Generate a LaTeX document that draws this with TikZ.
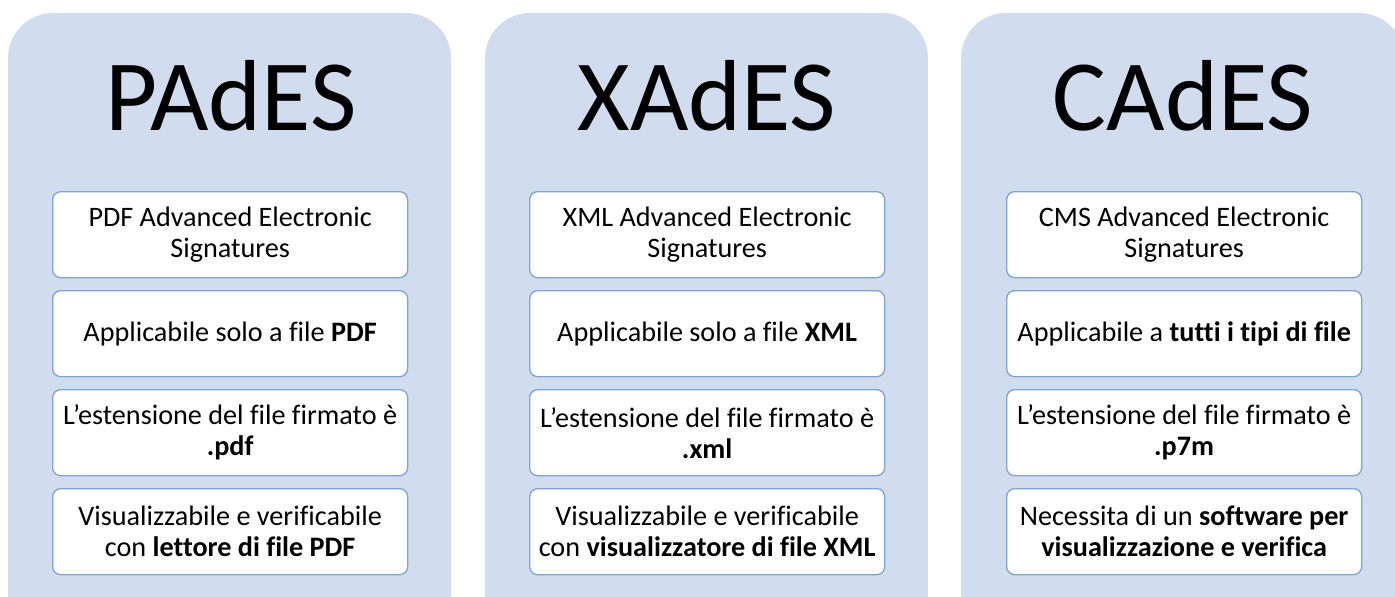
\documentclass[tikz,border=0pt]{standalone}
\usepackage{fontspec}
\setmainfont[Ligatures=NoCommon]{Carlito}
\definecolor{panelfill}{HTML}{D1DCEE}
\definecolor{boxline}{HTML}{7FA3D3}
\begin{document}
\begin{tikzpicture}[x=1pt,y=-1pt,
  panel/.style={fill=panelfill, rounded corners=45pt, anchor=north west, minimum width=443pt, minimum height=640pt, inner sep=0pt, outer sep=0pt},
  itembox/.style={draw=boxline, line width=1.3pt, fill=white, rounded corners=8pt, minimum width=355pt, minimum height=86pt, align=center, font=\fontsize{28.2}{31}\selectfont, inner sep=2pt, anchor=north west},
  titletext/.style={font=\fontsize{101}{110}\selectfont, anchor=base, inner sep=0pt}]
\useasboundingbox (0,0) rectangle (1395,597);
\clip (0,0) rectangle (1395,597);
% panels
\node[panel] (p1) at (8,13) {};
\node[panel] (p2) at (485,13) {};
\node[panel] (p3) at (961,13) {};
% titles
\node[titletext] (t1) at (231,130) {PAdES};
\node[titletext] (t2) at (707,130) {XAdES};
\node[titletext] (t3) at (1183,130) {CAdES};
% PAdES boxes
\node[itembox] (a1) at (52,191) {PDF Advanced Electronic\\Signatures};
\node[itembox] (a2) at (52,290) {Applicabile solo a file \textbf{PDF}};
\node[itembox] (a3) at (52,389) {L’estensione del file firmato è\\\textbf{.pdf}};
\node[itembox] (a4) at (52,488) {Visualizzabile e verificabile\\con \textbf{lettore di file PDF}};
% XAdES boxes
\node[itembox] (b1) at (529,191) {XML Advanced Electronic\\Signatures};
\node[itembox] (b2) at (529,290) {Applicabile solo a file \textbf{XML}};
\node[itembox] (b3) at (529,389) {L’estensione del file firmato è\\\textbf{.xml}};
\node[itembox] (b4) at (529,488) {Visualizzabile e verificabile\\con \textbf{visualizzatore di file XML}};
% CAdES boxes
\node[itembox] (c1) at (1006,191) {CMS Advanced Electronic\\Signatures};
\node[itembox] (c2) at (1006,290) {Applicabile a \textbf{tutti i tipi di file}};
\node[itembox] (c3) at (1006,389) {L’estensione del file firmato è\\\textbf{.p7m}};
\node[itembox] (c4) at (1006,488) {Necessita di un \textbf{software per}\\\textbf{visualizzazione e verifica}};
\end{tikzpicture}
\end{document}
